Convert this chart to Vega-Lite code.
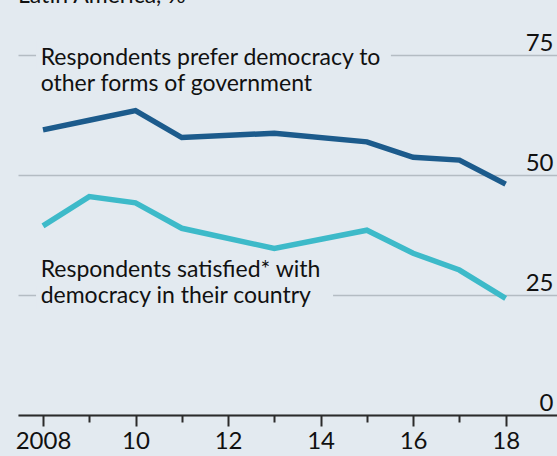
{
  "$schema": "https://vega.github.io/schema/vega-lite/v6.json",
  "width": 539,
  "height": 360,
  "autosize": {"type": "none"},
  "padding": {"left": 18, "top": 55, "right": 0, "bottom": 41},
  "background": "#e3eaf0",
  "title": {"text": "Latin America, %", "anchor": "start", "frame": "group", "baseline": "alphabetic", "offset": 5, "fontSize": 23, "fontWeight": "normal", "font": "Lato", "color": "#111111"},
  "config": {"view": {"stroke": null}, "font": "Lato"},
  "datasets": {
    "series": [
      {"year": 2008, "value": 59.4, "series": "prefer"},
      {"year": 2009, "value": 61.4, "series": "prefer"},
      {"year": 2010, "value": 63.4, "series": "prefer"},
      {"year": 2011, "value": 57.8, "series": "prefer"},
      {"year": 2013, "value": 58.7, "series": "prefer"},
      {"year": 2015, "value": 56.9, "series": "prefer"},
      {"year": 2016, "value": 53.7, "series": "prefer"},
      {"year": 2017, "value": 53.1, "series": "prefer"},
      {"year": 2018, "value": 48.1, "series": "prefer"},
      {"year": 2008, "value": 39.4, "series": "satisfied"},
      {"year": 2009, "value": 45.5, "series": "satisfied"},
      {"year": 2010, "value": 44.2, "series": "satisfied"},
      {"year": 2011, "value": 38.9, "series": "satisfied"},
      {"year": 2013, "value": 34.7, "series": "satisfied"},
      {"year": 2015, "value": 38.5, "series": "satisfied"},
      {"year": 2016, "value": 33.7, "series": "satisfied"},
      {"year": 2017, "value": 30.2, "series": "satisfied"},
      {"year": 2018, "value": 24.3, "series": "satisfied"}
    ],
    "boxes": [
      {"x": 2007.85, "x2": 2015.52, "y": 72, "y2": 78},
      {"x": 2007.85, "x2": 2014.27, "y": 22, "y2": 27}
    ],
    "labels": [
      {"x": 2007.95, "y": 72.9, "text": "Respondents prefer democracy to\nother forms of government"},
      {"x": 2007.95, "y": 28.8, "text": "Respondents satisfied* with\ndemocracy in their country"}
    ]
  },
  "layer": [
    {
      "data": {"name": "series"},
      "mark": {"type": "line", "strokeWidth": 5.5, "strokeCap": "butt", "strokeJoin": "miter"},
      "encoding": {
        "x": {
          "field": "year", "type": "quantitative",
          "scale": {"domain": [2007.46, 2019.11], "nice": false, "zero": false},
          "axis": {
            "title": null,
            "values": [2008, 2009, 2010, 2011, 2012, 2013, 2014, 2015, 2016, 2017, 2018],
            "grid": false,
            "domainColor": "#2b2b2b", "domainWidth": 2,
            "tickColor": "#2b2b2b", "tickWidth": 2,
            "tickSize": {"condition": {"test": "datum.value % 2 === 0", "value": 11}, "value": 7},
            "labelExpr": "datum.value === 2008 ? '2008' : (datum.value % 2 === 0 ? substring(toString(datum.value), 2) : '')",
            "labelFontSize": 24, "labelColor": "#111111", "labelPadding": 3,
            "labelFlush": false, "labelOverlap": false
          }
        },
        "y": {
          "field": "value", "type": "quantitative",
          "scale": {"domain": [0, 75], "nice": false},
          "axis": {
            "title": null, "orient": "right",
            "values": [0, 25, 50, 75],
            "ticks": false, "tickSize": 0, "domain": false,
            "grid": true, "gridColor": "#b4bcc3", "gridWidth": 1.5,
            "labelAlign": "right", "labelBaseline": "alphabetic",
            "labelPadding": -4, "labelOffset": -5,
            "labelFontSize": 24, "labelColor": "#111111"
          }
        },
        "color": {
          "field": "series", "type": "nominal",
          "scale": {"domain": ["prefer", "satisfied"], "range": ["#1c5b8c", "#3dbac9"]},
          "legend": null
        }
      }
    },
    {
      "data": {"name": "boxes"},
      "mark": {"type": "rect", "color": "#e3eaf0"},
      "encoding": {
        "x": {"field": "x", "type": "quantitative"},
        "x2": {"field": "x2"},
        "y": {"field": "y", "type": "quantitative"},
        "y2": {"field": "y2"}
      }
    },
    {
      "data": {"name": "labels"},
      "mark": {"type": "text", "align": "left", "baseline": "alphabetic", "fontSize": 23, "lineBreak": "\n", "lineHeight": 26, "color": "#111111"},
      "encoding": {
        "x": {"field": "x", "type": "quantitative"},
        "y": {"field": "y", "type": "quantitative"},
        "text": {"field": "text"}
      }
    }
  ]
}
